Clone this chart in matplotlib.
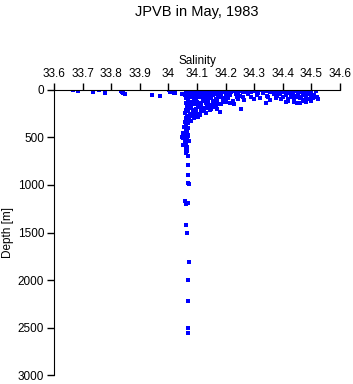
"""
JPVB salinity profile, May 1983 - scatter of salinity vs depth
"""

import matplotlib
matplotlib.use('Agg')
import matplotlib.pyplot as plt

plt.rcParams['font.family'] = ['Liberation Sans', 'DejaVu Sans']

# axis ticks
sal_ticks = [33.6, 33.7, 33.8, 33.9, 34.0, 34.1, 34.2, 34.3, 34.4, 34.5, 34.6]
sal_tick_labels = ['33.6', '33.7', '33.8', '33.9', '34', '34.1', '34.2', '34.3', '34.4', '34.5', '34.6']
depth_ticks = [0, 500, 1000, 1500, 2000, 2500, 3000]

# surface outliers (fresher water)
surf_sal = [33.666, 33.684, 33.736, 33.757, 33.778, 33.834, 33.838, 33.840, 33.840, 33.850,
            33.943, 33.970, 34.002, 34.005, 34.020, 34.023, 34.047, 34.058]
surf_depth = [5, 10, 20, 5, 30, 10, 20, 3, 30, 40,
              55, 60, 5, 20, 30, 35, 45, 50]

# upper layer cluster
top_sal = [34.08, 34.09, 34.10, 34.11, 34.12, 34.13, 34.14, 34.15, 34.16, 34.17, 34.18, 34.19,
           34.21, 34.22, 34.23, 34.24, 34.25, 34.26, 34.27, 34.28, 34.29, 34.30, 34.31, 34.32,
           34.33, 34.34, 34.35, 34.36, 34.37, 34.38, 34.39, 34.40, 34.41, 34.42, 34.43, 34.44,
           34.45, 34.46, 34.47, 34.48, 34.49, 34.50,
           34.085, 34.105, 34.125, 34.145, 34.165, 34.195, 34.225, 34.245, 34.275, 34.295,
           34.315, 34.335, 34.355, 34.385, 34.405, 34.435, 34.455, 34.475, 34.495, 34.515,
           34.08, 34.095, 34.11, 34.125, 34.14, 34.155, 34.17, 34.185, 34.20, 34.215, 34.235,
           34.25, 34.28, 34.31, 34.33, 34.345, 34.37, 34.39, 34.41, 34.425, 34.44, 34.455,
           34.47, 34.49, 34.51, 34.52,
           34.085, 34.10, 34.115, 34.135, 34.15, 34.175, 34.19, 34.20, 34.24, 34.26, 34.29,
           34.35, 34.38, 34.40, 34.43, 34.45, 34.465, 34.48, 34.50, 34.515,
           34.08, 34.09, 34.105, 34.12, 34.135, 34.15, 34.165, 34.18, 34.195, 34.21, 34.225,
           34.245, 34.265, 34.30, 34.32, 34.355, 34.375, 34.395, 34.42, 34.44, 34.46, 34.475,
           34.49, 34.505, 34.525,
           34.095, 34.11, 34.125, 34.14, 34.155, 34.17, 34.185, 34.20, 34.215, 34.42, 34.44,
           34.47, 34.50, 34.46,
           34.075, 34.09, 34.10, 34.115, 34.13, 34.145, 34.16, 34.175, 34.19, 34.23, 34.34,
           34.41, 34.45, 34.48,
           34.08, 34.095, 34.11, 34.125, 34.14, 34.155, 34.17, 34.085, 34.10, 34.115, 34.13,
           34.09, 34.105, 34.18, 34.255,
           34.075, 34.09, 34.105, 34.12, 34.135, 34.15, 34.165, 34.08, 34.095, 34.11, 34.075,
           34.09, 34.12, 34.145]
top_depth = [5, 15, 5, 20, 8, 15, 3, 25, 10, 5, 18, 8,
             10, 25, 5, 15, 8, 20, 3, 12, 25, 8, 15, 5,
             20, 10, 3, 15, 25, 8, 18, 5, 12, 22, 8, 3,
             15, 25, 10, 5, 20, 12,
             25, 30, 35, 20, 30, 25, 15, 30, 20, 10,
             28, 5, 22, 30, 20, 28, 5, 22, 30, 15,
             40, 55, 45, 60, 35, 50, 40, 65, 45, 55, 40,
             60, 45, 55, 38, 65, 45, 40, 55, 35, 60, 45,
             50, 40, 55, 70,
             65, 60, 70, 80, 65, 75, 85, 70, 75, 80, 70,
             75, 65, 80, 75, 70, 80, 65, 75, 70,
             80, 100, 75, 95, 110, 85, 100, 80, 105, 90, 115,
             95, 110, 100, 90, 105, 85, 100, 95, 110, 90, 105,
             95, 85, 100,
             120, 135, 120, 125, 115, 120, 145, 125, 135, 115, 125,
             120, 115, 135,
             130, 150, 125, 160, 140, 155, 135, 150, 130, 150, 135,
             125, 140, 130,
             180, 200, 185, 210, 195, 180, 205, 230, 250, 225, 240,
             270, 285, 230, 200,
             195, 215, 170, 190, 175, 200, 185, 250, 240, 260, 280,
             300, 220, 215]

# thermocline column and deep samples
col_sal = [34.07, 34.06, 34.075, 34.065, 34.08, 34.06, 34.07, 34.085, 34.06, 34.075, 34.065,
           34.08, 34.06, 34.07, 34.058, 34.075, 34.065, 34.06, 34.072, 34.058, 34.068, 34.062,
           34.055, 34.07, 34.06, 34.065, 34.055, 34.068, 34.06, 34.052, 34.066, 34.058, 34.062,
           34.055, 34.065, 34.06, 34.066, 34.062, 34.05, 34.048, 34.072, 34.07, 34.05, 34.08,
           34.085, 34.09,
           34.068, 34.068, 34.068, 34.07, 34.072, 34.058, 34.07, 34.062, 34.061, 34.066,
           34.072, 34.07, 34.07, 34.07, 34.07]
col_depth = [10, 25, 40, 60, 75, 90, 110, 125, 140, 160, 175,
             190, 210, 225, 245, 260, 280, 300, 315, 335, 350, 370,
             390, 400, 420, 440, 460, 475, 490, 505, 520, 540, 560,
             580, 600, 620, 640, 660, 450, 500, 540, 480, 580, 330,
             240, 270,
             700, 790, 900, 975, 995, 1165, 1185, 1200, 1420, 1500,
             1805, 1995, 2220, 2500, 2560]


def main():
    fig = plt.figure(figsize=(3.53, 3.84), dpi=100)
    ax = fig.add_axes([0.153, 0.023, 0.81, 0.743])

    for s, d in [(surf_sal, surf_depth), (top_sal, top_depth), (col_sal, col_depth)]:
        ax.plot(s, d, 's', color='#0000ff', markersize=2.4, markeredgewidth=0)

    ax.set_xlim(33.6, 34.6)
    ax.set_ylim(3000, 0)
    ax.xaxis.tick_top()
    ax.xaxis.set_label_position('top')
    ax.set_xticks(sal_ticks)
    ax.set_xticklabels(sal_tick_labels)
    ax.set_yticks(depth_ticks)
    ax.tick_params(labelsize=8.5, length=5, width=1, pad=2)
    ax.set_xlabel('Salinity', fontsize=8.5, labelpad=3)
    ax.set_ylabel('Depth [m]', fontsize=8.5, labelpad=3)

    for side in ['right', 'bottom']:
        ax.spines[side].set_visible(False)

    fig.text(0.558, 0.968, 'JPVB in May, 1983', ha='center', va='center', fontsize=10.5)

    fig.savefig('out.png', dpi=100)


if __name__ == '__main__':
    main()
